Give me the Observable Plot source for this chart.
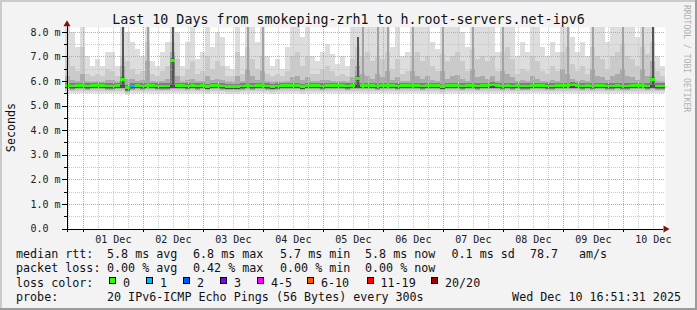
<!DOCTYPE html>
<html><head><meta charset="utf-8">
<script src="https://cdn.jsdelivr.net/npm/d3@7"></script>
<script src="https://cdn.jsdelivr.net/npm/@observablehq/plot@0.6"></script>
<style>
html,body{margin:0;padding:0;background:#f3f3f3;overflow:hidden;}
#chart{width:697px;height:310px;position:relative;background:#f3f3f3;}
#chart svg{display:block;position:absolute;left:0;top:0;}
</style></head><body><div id="chart"></div>
<script>
// ---------- data ----------
const startTime = Date.UTC(2025, 10, 30, 16, 51, 31);
const endTime = Date.UTC(2025, 11, 10, 16, 51, 31);
const binHours = 2;

const medianRtt = [
  5.82,5.8,5.82,5.82,5.8,5.82,5.82,5.82,5.8,5.8, 5.82,6.06,5.72,5.8,5.82,5.8,5.82,5.82,5.8,5.8,
  5.8,6.82,5.82,5.82,5.8,5.82,5.8,5.82,5.78,5.82,
  5.82,5.8,5.78,5.78,5.78,5.8,5.82,5.8,5.82,5.82, 5.8,5.78,5.8,5.82,5.82,5.82,5.82,5.78,5.82,5.82,
  5.82,5.8,5.82,5.82,5.82,5.82,5.8,5.82,6.1,5.82,
  5.82,5.82,5.8,5.82,5.82,5.82,5.8,5.82,5.82,5.82, 5.82,5.8,5.82,5.82,5.82,5.78,5.82,5.82,5.82,5.8,
  5.82,5.82,5.8,5.82,5.82,5.84,5.82,5.8,5.82,5.8,
  5.82,5.8,5.8,5.82,5.82,5.82,5.8,5.8,5.82,5.82, 5.82,5.84,5.82,5.8,5.82,5.8,5.82,5.82,5.8,5.8,
  5.82,5.8,5.8,5.82,5.82,5.82,5.8,6.05,5.8,5.8
];
const smokeMax = [
  8.2,8.0,7.4,8.2,7.0,6.6,6.9,6.6,7.2,7.2, 6.6,8.2,8.0,7.6,7.3,7.0,8.2,6.8,6.6,7.2,
  7.6,8.2,8.0,6.6,7.6,8.2,6.9,7.2,8.2,7.4,
  8.0,7.8,6.6,6.5,8.2,7.0,8.2,8.2,7.6,8.2, 7.0,6.6,6.9,6.5,7.4,8.2,8.2,7.8,8.2,7.0,
  6.8,7.2,7.5,7.1,6.7,7.0,6.6,8.2,8.2,8.2,
  8.2,8.2,8.2,8.2,8.2,7.4,8.2,7.0,7.2,8.2, 8.2,8.2,8.2,7.6,7.3,8.2,8.2,8.2,8.2,8.0,
  7.4,8.2,8.2,8.2,8.2,8.2,7.2,8.2,8.2,8.2,
  7.0,7.6,7.2,8.2,8.2,7.4,7.0,7.6,7.2,8.2, 8.2,7.8,7.2,7.6,7.0,8.2,8.2,8.2,7.6,8.2,
  8.2,8.2,8.2,8.2,7.8,8.2,8.2,8.2,7.0,6.6
];
const smokeMid = [
  7.0,6.6,6.4,7.4,6.3,6.2,6.3,6.2,6.5,6.4, 6.2,7.0,6.8,6.5,6.3,6.4,7.6,6.3,6.2,6.4,
  6.6,7.6,6.9,6.2,6.5,6.8,6.3,6.4,7.0,6.5,
  6.8,6.6,6.2,6.2,7.2,6.3,7.4,6.9,6.5,7.0, 6.3,6.2,6.3,6.2,6.4,7.0,7.2,6.6,7.0,6.3,
  6.3,6.5,6.6,6.4,6.2,6.3,6.2,6.9,7.4,7.0,
  7.2,6.8,7.0,6.9,7.2,6.5,6.9,6.3,6.4,7.0, 7.2,6.8,7.0,6.6,6.4,7.1,6.8,7.0,7.2,6.8,
  6.4,7.3,6.9,7.0,6.8,7.0,6.4,7.2,7.4,6.9,
  6.3,6.5,6.4,7.0,6.8,6.4,6.3,6.6,6.4,7.2, 7.4,6.7,6.4,6.6,6.3,7.4,7.0,6.9,6.5,7.0,
  7.2,7.5,7.0,6.9,6.6,7.4,7.1,7.6,6.4,6.2
];
const smokeCore = [
  6.2,6.05,6.0,6.3,6.0,5.98,6.0,5.98,6.05,6.05, 5.98,6.6,6.1,6.1,6.0,6.05,6.8,6.0,5.98,6.02,
  6.1,7.2,6.2,5.98,6.05,6.1,6.0,6.02,6.2,6.05,
  6.1,6.05,5.98,5.98,6.2,6.0,6.5,6.2,6.05,6.4, 6.0,5.98,6.0,5.98,6.02,6.15,6.2,6.05,6.15,6.0,
  6.0,6.05,6.05,6.0,5.98,6.0,5.98,6.15,6.6,6.3,
  6.2,6.1,6.3,6.15,6.4,6.05,6.15,6.0,6.02,6.4, 6.2,6.1,6.2,6.05,6.0,6.4,6.1,6.2,6.25,6.1,
  6.02,6.5,6.15,6.2,6.1,6.2,6.02,6.4,6.3,6.15,
  6.0,6.05,6.02,6.2,6.1,6.02,6.0,6.05,6.02,6.5, 6.3,6.1,6.02,6.05,6.0,6.5,6.2,6.15,6.05,6.2,
  6.3,6.5,6.2,6.15,6.05,6.5,6.2,6.8,6.02,5.98
];
// dense columns of many high pings (bin index, top value, density level)
const columnBins   = [11, 16, 21, 36, 39, 58, 59, 62, 64, 69, 75, 81, 87, 100, 105, 111, 115, 117];
const columnTops   = [8.2, 8.2, 8.2, 8.2, 8.2, 7.8, 8.2, 8.2, 8.2, 8.2, 8.2, 8.2, 8.2, 8.2, 8.2, 8.2, 8.2, 8.2];
const columnLevels = [3, 2, 3, 2, 2, 3, 2, 2, 2, 2, 2, 2, 2, 2, 2, 2, 2, 3];
// packet loss per bin (only non-zero)
const lossBins = [13];
const lossCounts = [1];

const lossSteps  = [0, 1, 2, 3, 5, 10, 19, 20];
const lossLabels = ["0", "1", "2", "3", "4-5", "6-10", "11-19", "20/20"];
const lossColors = ["#26ff00", "#00b8ff", "#0059ff", "#7e00ff", "#ff00ff", "#ff5500", "#ff0000", "#a10000"];

const yTickValues = [0, 1, 2, 3, 4, 5, 6, 7, 8];
const yTickLabels = ["0.0", "1.0 m", "2.0 m", "3.0 m", "4.0 m", "5.0 m", "6.0 m", "7.0 m", "8.0 m"];
const dayLabels = ["01 Dec", "02 Dec", "03 Dec", "04 Dec", "05 Dec", "06 Dec", "07 Dec", "08 Dec", "09 Dec", "10 Dec"];
const dayNumbers = [1, 2, 3, 4, 5, 6, 7, 8, 9, 10];

const titleText = "Last 10 Days from smokeping-zrh1 to h.root-servers.net-ipv6";
const yLabelText = "Seconds";
const rowLabels = ["median rtt:", "packet loss:", "loss color:", "probe:"];
const rttStats = ["5.8 ms avg", "6.8 ms max", "5.7 ms min", "5.8 ms now", "0.1 ms sd", "78.7", "am/s"];
const lossStats = ["0.00 % avg", "0.42 % max", "0.00 % min", "0.00 % now"];
const probeText = "20 IPv6-ICMP Echo Pings (56 Bytes) every 300s";
const stampText = "Wed Dec 10 16:51:31 2025";
const creditText = "RRDTOOL / TOBI OETIKER";

// ---------- derived tables ----------
const H_MS = 3600 * 1000;
const binTime = i => new Date(startTime + i * binHours * H_MS);
const bins = medianRtt.map((m, i) => ({
  t1: binTime(i), t2: binTime(i + 1), med: m, base: Math.min(m, 5.82),
  hi: smokeMax[i], mid: smokeMid[i], core: smokeCore[i],
  loss: lossBins.includes(i) ? lossCounts[lossBins.indexOf(i)] : 0
}));
const cols = columnBins.map((b, k) => ({t1: binTime(b), t2: binTime(b + 1), top: columnTops[k], level: columnLevels[k]}));
const lossColorOf = v => lossColors[lossSteps.findIndex(s => v <= s)];

const start = new Date(startTime), end = new Date(endTime);
const majorX = d3.utcDay.range(start, end);
const minorX = d3.utcHour.every(6).range(start, end).filter(d => d.getUTCHours() !== 0);
const dayNoons = dayNumbers.map(d => new Date(Date.UTC(2025, 11, d, 12)));
const minorY = [0.5, 1.5, 2.5, 3.5, 4.5, 5.5, 6.5, 7.5];
const hoursBefore = h => new Date(startTime + h * H_MS);

const crisp = {shapeRendering: "crispEdges"};
const plot = Plot.plot({
  width: 697, height: 310,
  marginLeft: 65, marginRight: 32, marginTop: 27, marginBottom: 81.5,
  style: {background: "transparent", fontFamily: "'DejaVu Sans Mono', monospace", fontSize: "10px", color: "black", overflow: "visible"},
  x: {type: "utc", domain: [start, end], axis: null},
  y: {domain: [0, 8.2], axis: null},
  marks: [
    Plot.frame({fill: "white", stroke: null}),
    // smoke
    Plot.rect(bins, {x1: "t1", x2: "t2", y1: d => d.base - 0.30, y2: "hi", fill: "#dddddd", ...crisp, clip: true}),
    Plot.rect(bins, {x1: "t1", x2: "t2", y1: d => d.base - 0.22, y2: "mid", fill: "#cacaca", ...crisp, clip: true}),
    Plot.rect(bins, {x1: "t1", x2: "t2", y1: d => d.base - 0.16, y2: "core", fill: "#aaaaaa", ...crisp, clip: true}),
    Plot.rect(bins, {x1: "t1", x2: "t2", y1: d => d.base - 0.12, y2: d => d.med + 0.12, fill: "#7c7c7c", ...crisp}),
    Plot.rect(bins, {x1: "t1", x2: "t2", y1: d => d.base - 0.10, y2: d => d.base + 0.03, fill: "#4a4a4a", ...crisp}),
    // grid
    Plot.ruleX(minorX, {stroke: "#c8c8c8", strokeDasharray: "1,1", ...crisp}),
    Plot.ruleY(minorY, {stroke: "#c8c8c8", strokeDasharray: "1,1", ...crisp}),
    Plot.ruleX(majorX, {stroke: "#e29a9a", strokeDasharray: "1,1", ...crisp}),
    Plot.ruleY(yTickValues.slice(1), {stroke: "#e29a9a", strokeDasharray: "1,1", ...crisp}),
    // dense columns
    Plot.rect(cols, {x1: "t1", x2: "t2", y1: 5.7, y2: "top", insetLeft: 1.5, insetRight: 1.5,
      fill: d => d.level === 3 ? "#555555" : "#a2a2a2", ...crisp, clip: true}),
    // median line coloured by loss
    Plot.rect(bins, {x1: "t1", x2: "t2", y1: d => d.med - 0.06, y2: d => d.med + 0.06, fill: d => lossColorOf(d.loss), ...crisp}),
    // axes
    Plot.ruleY([0], {x1: hoursBefore(-1.2), x2: new Date(endTime - 0.8 * H_MS), stroke: "black", ...crisp}),
    Plot.ruleX([start], {y1: -0.15, y2: 8.3, dx: 1.5, stroke: "black", ...crisp}),
    Plot.ruleY(yTickValues, {x1: hoursBefore(-1.3), x2: hoursBefore(0.6), stroke: "black", ...crisp}),
    Plot.ruleY(minorY, {x1: hoursBefore(-0.6), x2: hoursBefore(0.6), stroke: "black", ...crisp}),
    Plot.ruleX(majorX, {y1: 0, y2: -0.14, stroke: "black", ...crisp}),
    Plot.ruleX(minorX, {y1: 0, y2: -0.07, stroke: "black", ...crisp}),
    Plot.dot([0], {x: () => end, y: 0, symbol: "triangle", rotate: 90, r: 2.6, fill: "#7f1010", stroke: null}),
    Plot.dot([0], {x: () => start, y: 8.33, dx: 1.5, symbol: "triangle", r: 2.6, fill: "#7f1010", stroke: null}),
    Plot.text(yTickValues, {x: () => start, y: d => d, text: (d, i) => yTickLabels[i], dx: -35, textAnchor: "start", lineAnchor: "middle", fontSize: 10, fill: "#202020"}),
    Plot.text(dayNoons, {x: d => d, y: () => 0, text: (d, i) => dayLabels[i], dy: 10.3, textAnchor: "middle", lineAnchor: "middle", fontSize: 10, fill: "#202020"})
  ]
});
document.getElementById("chart").appendChild(plot);

// ---------- titles, legend, frame ----------
const svg = d3.select(plot);
const font = "'DejaVu Sans Mono', monospace";
const txt = (x, y, s, size, opts = {}) => svg.append("text").attr("x", x).attr("y", y)
  .attr("font-family", font).attr("font-size", size).attr("fill", opts.fill || "#111")
  .attr("text-anchor", opts.anchor || "start").attr("xml:space", "preserve").text(s);

txt(348.5, 23.5, titleText, 13.3, {anchor: "middle"});
svg.append("text").attr("transform", "translate(15,127.5) rotate(-90)").attr("text-anchor", "middle")
  .attr("font-family", font).attr("font-size", 11.7).attr("fill", "#111").text(yLabelText);
svg.append("text").attr("transform", "translate(684,5) rotate(90)").attr("text-anchor", "start")
  .attr("font-family", font).attr("font-size", 8.1).attr("fill", "#b0b0b0").text(creditText);

const rowY = [257.5, 272, 286.5, 301];
const LF = 11.7;
rowLabels.forEach((s, i) => txt(16, rowY[i], s, LF));
const rttX = [107, 193, 280, 365, 451.5, 530, 579];
rttStats.forEach((s, i) => txt(rttX[i], rowY[0], s, LF));
lossStats.forEach((s, i) => txt(rttX[i], rowY[1], s, LF));
const boxX = [109, 146, 183, 220, 257, 307, 366.5, 431];
lossLabels.forEach((s, i) => {
  svg.append("rect").attr("x", boxX[i] + 0.5).attr("y", 277.5).attr("width", 6).attr("height", 6)
    .attr("fill", lossColors[i]).attr("stroke", "black").attr("stroke-width", 1).attr("shape-rendering", "crispEdges");
  txt(boxX[i] + 14, rowY[2], s, LF);
});
txt(107, rowY[3], probeText, LF);
txt(681, rowY[3], stampText, LF, {anchor: "end"});

// 3D border
const edge = (x1, y1, x2, y2, c) => svg.append("line").attr("x1", x1).attr("y1", y1).attr("x2", x2).attr("y2", y2)
  .attr("stroke", c).attr("stroke-width", 2).attr("shape-rendering", "crispEdges");
edge(0, 1, 697, 1, "#cbcbcb");
edge(1, 0, 1, 310, "#cbcbcb");
edge(0, 309, 697, 309, "#9b9b9b");
edge(696, 0, 696, 310, "#9b9b9b");
</script></body></html>
